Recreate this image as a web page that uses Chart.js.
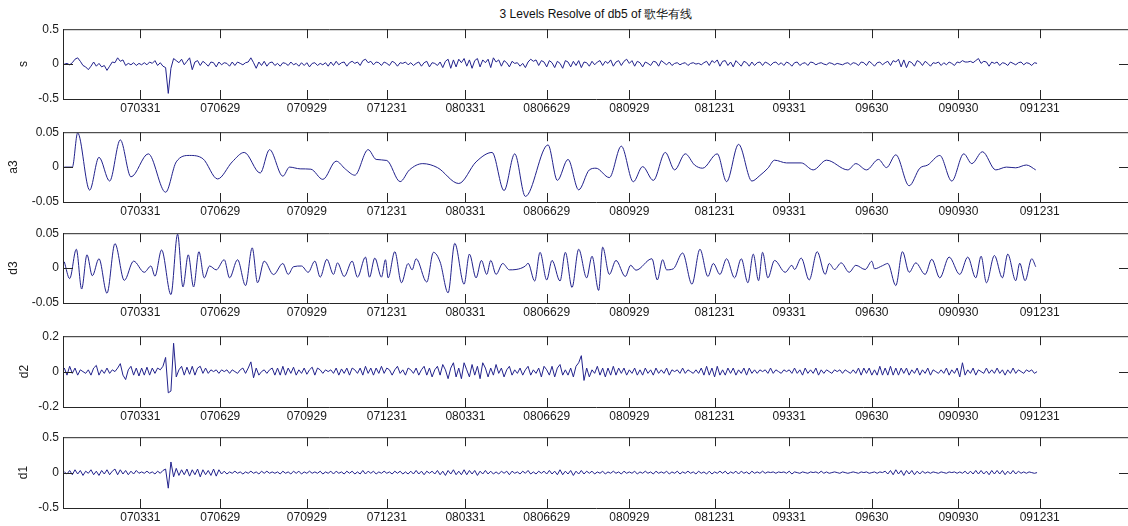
<!DOCTYPE html>
<html>
<head>
<meta charset="utf-8">
<script src="https://cdn.jsdelivr.net/npm/chart.js@4/dist/chart.umd.min.js"></script>
<style>
  html, body { margin: 0; padding: 0; background: #fff; overflow: hidden; width: 1128px; height: 526px; }
  #title { position: absolute; left: 63px; width: 1066px; top: 6px; text-align: center;
           font: 12px "Liberation Sans", Arial, sans-serif; color: #111; }
  .panel { position: absolute; left: 0; width: 1140px; }
</style>
</head>
<body>
<div id="title">3 Levels Resolve of db5 of 歌华有线</div>
<script>
'use strict';

// ── 横轴：交易日序号与日期标签 ─────────────────────────────
const tickIdx    = [58, 118, 183, 243, 302, 363, 425, 489, 545, 607, 672, 733];
const tickLabels = ['070331', '070629', '070929', '071231', '080331', '0806629',
                    '080929', '081231', '09331', '09630', '090930', '091231'];

// ── 原始信号 s（每隔一个交易日取样，序号 1,3,5,...）───────────
const sVal = [
  0, 0.01, -0.01, 0.02, 0.07, 0.09, 0.04, -0.02, -0.04, -0.08,
  -0.03, 0.03, -0.03, 0.01, -0.04, -0.02, -0.09, -0.03, 0.03, 0.02,
  0.09, 0.04, 0.06, -0.02, 0.01, -0.01, 0.02, -0.02, 0.01, -0.01,
  0.02, -0.01, 0.03, 0.01, 0.05, -0.02, 0.02, -0.03, -0.05, -0.42,
  -0.06, 0.08, 0.05, 0.02, 0.07, -0.01, 0.04, 0.09, -0.08, 0.03,
  0.05, -0.02, 0.04, 0.01, -0.03, 0.03, 0.02, -0.04, 0.03, -0.01,
  0.02, 0.01, -0.03, 0.03, -0.02, 0.03, 0.01, -0.01, 0.02, 0.03,
  0.09, 0.02, -0.06, 0.03, -0.02, 0.04, -0.03, 0.02, 0.03, -0.02,
  0.01, -0.03, 0.02, 0.01, -0.02, 0.03, -0.01, 0.01, -0.03, 0.02,
  -0.02, 0.02, -0.04, 0.01, 0.02, -0.02, 0.01, -0.01, 0.02, -0.03,
  0.03, -0.02, 0.04, -0.01, 0.02, 0.03, -0.03, 0.02, 0.04, 0.01,
  0.03, -0.02, 0.05, 0.07, 0.02, 0.04, -0.01, 0.03, 0.02, -0.02,
  0.03, 0.01, -0.02, 0.04, 0.02, -0.03, 0.02, 0.01, 0.03, -0.01,
  0.02, -0.02, 0.01, 0.03, -0.03, 0.02, 0.04, -0.04, 0.02, 0.01,
  -0.02, 0.03, -0.05, 0.04, 0.07, -0.06, 0.06, -0.04, 0.07, 0.02,
  0.08, -0.03, 0.06, -0.06, 0.05, 0.08, -0.04, 0.06, 0.02, 0.07,
  -0.05, 0.09, 0.03, 0.06, -0.03, 0.05, 0.02, -0.04, 0.04, 0.01,
  0.02, -0.03, 0.01, -0.05, 0.03, 0.07, 0.04, 0.06, -0.02, 0.05,
  0.03, -0.04, 0.05, 0.02, -0.05, 0.04, 0.01, -0.06, 0.05, 0.03,
  -0.04, 0.04, -0.02, 0.05, -0.05, 0.03, 0.02, -0.03, 0.04, -0.01,
  0.03, 0.05, -0.02, 0.04, 0.01, 0.06, -0.03, 0.03, 0.05, -0.02,
  0.04, 0.07, 0.01, 0.05, -0.03, 0.04, 0.02, -0.04, 0.03, 0.01,
  -0.02, 0.04, 0.03, -0.03, 0.05, 0.02, -0.01, 0.03, -0.02, 0.01,
  0.02, -0.01, 0.01, 0.02, -0.02, 0.01, 0.02, 0, 0.01, -0.01,
  0.02, 0.04, -0.02, 0.05, 0.02, 0.06, -0.03, 0.04, 0.05, -0.02,
  0.03, -0.04, 0.05, 0.01, -0.03, 0.04, 0.02, -0.03, 0.03, -0.02,
  0.02, 0.03, -0.02, 0.03, 0.01, -0.02, 0.02, 0.03, -0.01, 0.02,
  -0.02, 0.03, 0.01, -0.03, 0.02, 0.03, -0.02, 0.01, 0.02, -0.02,
  0.03, 0.02, -0.01, 0.01, 0.02, 0, -0.01, 0.02, 0.01, -0.01,
  0.01, 0, -0.01, 0.01, 0.02, -0.01, 0.02, 0.01, -0.02, 0.03,
  0.02, -0.02, 0.04, 0.01, -0.03, 0.02, 0.03, -0.01, 0.02, 0.04,
  -0.02, 0.05, 0.03, 0.07, -0.04, 0.06, -0.05, 0.04, 0.02, -0.03,
  0.05, 0.03, -0.02, 0.04, 0.01, -0.03, 0.02, 0.01, 0.03, -0.02,
  0.02, -0.01, 0.03, 0.01, -0.02, 0.03, 0.02, 0.05, 0.03, 0.03,
  0.04, 0.02, 0.05, 0.08, 0.01, 0.04, 0.03, -0.03, 0.03, 0.01,
  0.03, -0.02, 0.02, 0.01, -0.02, 0.03, 0.01, -0.01, 0.02, 0.03,
  -0.01, 0.02, 0.01, -0.02, 0.02, 0.01
];

// ── 第3层近似 a3（平滑，按极值点记录）────────────────────────
const a3Idx = [1, 7, 11, 20, 27, 35, 43, 51, 64, 77, 85, 95, 105, 116, 127, 136, 148, 155, 165, 170,
  178, 186, 195, 205, 212, 219, 229, 235, 243, 253, 260, 270, 281, 297, 310, 322, 331, 339, 347, 364,
  371, 379, 387, 395, 400, 410, 419, 428, 435, 443, 452, 459, 467, 474, 480, 491, 498, 507, 517, 523,
  529, 534, 543, 554, 563, 573, 589, 595, 603, 612, 618, 625, 635, 643, 649, 658, 667, 676, 682, 690,
  700, 708, 715, 723, 730];
const a3Val = [0, 0, 0.049, -0.033, 0.014, -0.020, 0.039, -0.014, 0.019, -0.036,
  0.0075, 0.0167, 0.012, -0.017, 0.0075, 0.021, -0.0085, 0.025, -0.013, 0,
  -0.0025, -0.003, -0.0176, 0.0085, -0.003, -0.0116, 0.025, 0.011, 0.0095, -0.0208,
  -0.004, 0.005, -0.0007, -0.0235, 0.0075, 0.021, -0.0336, 0.019, -0.042, 0.0318,
  -0.019, 0.011, -0.0326, -0.004, -0.0016, -0.015, 0.030, -0.021, 0.0007, -0.019,
  0.021, -0.004, 0.019, 0.003, -0.0016, 0.019, -0.0208, 0.0326, -0.020, -0.012,
  -0.0016, 0.0099, 0.006, 0.006, -0.004, 0.0099, -0.004, 0.005, -0.004, 0.011,
  -0.0007, 0.0176, -0.0267, -0.0016, 0.003, 0.0167, -0.020, 0.019, 0.005, 0.022,
  -0.004, 0, -0.001, 0.003, -0.004];

// ── 第3层细节 d3 ────────────────────────────────────────────
const d3Idx = [1, 5, 10, 14, 18, 22, 27, 33, 39, 46, 53, 61, 66, 69, 74, 81, 86, 90, 94, 98,
  102, 106, 110, 115, 121, 125, 131, 137, 142, 146, 151, 158, 165, 169, 173, 179, 184, 189, 193, 198,
  203, 206, 211, 217, 221, 227, 230, 234, 239, 242, 244, 249, 254, 259, 262, 265, 273, 278, 283, 289,
  294, 301, 305, 310, 314, 318, 321, 325, 330, 335, 340, 347, 349, 354, 358, 363, 367, 373, 377, 382,
  387, 393, 397, 402, 405, 410, 415, 422, 426, 430, 442, 446, 450, 453, 458, 465, 472, 478, 484, 488,
  493, 498, 504, 509, 514, 518, 522, 525, 529, 534, 542, 547, 549, 554, 560, 566, 572, 575, 579, 584,
  590, 595, 602, 607, 609, 615, 619, 625, 630, 635, 640, 647, 652, 658, 665, 673, 679, 685, 689, 693,
  699, 705, 709, 715, 718, 722, 727, 730];
const d3Val = [0.009, -0.015, 0.027, -0.030, 0.019, -0.011, 0.0134, -0.036, 0.035, -0.0176,
  0.010, -0.006, 0.003, -0.0116, 0.026, -0.038, 0.0486, -0.027, 0.019, -0.027,
  0.0235, -0.014, 0.003, -0.0025, 0.012, -0.014, 0.012, -0.025, 0.029, -0.021,
  0.010, -0.0093, 0.0066, -0.009, 0.002, 0.003, -0.006, 0.010, -0.013, 0.0126,
  -0.009, 0.0075, -0.012, 0.010, -0.013, 0.0158, -0.013, 0.0144, -0.013, 0.012,
  -0.014, 0.0235, -0.021, 0.0066, -0.0025, 0.0134, -0.020, 0.0226, 0.0088, -0.0354,
  0.0354, -0.023, 0.020, -0.014, 0.011, -0.009, 0.011, -0.009, 0.0066, -0.0025,
  -0.002, 0.003, 0.007, -0.0185, 0.0226, -0.017, 0.011, -0.0185, 0.0226, -0.0277,
  0.027, -0.014, 0.017, -0.032, 0.030, -0.009, 0.011, -0.012, 0.004, -0.003,
  0.0134, -0.017, 0.012, -0.0025, -0.001, 0.0216, -0.023, 0.027, -0.012, 0.0066,
  -0.009, 0.0134, -0.014, 0.0134, -0.021, 0.020, -0.018, 0.0226, -0.014, 0.011,
  -0.006, 0.004, -0.002, 0.0144, -0.017, 0.0235, -0.009, 0.0066, -0.002, 0.0075,
  -0.006, 0.004, -0.002, 0.0098, -0.001, 0.0035, 0.0066, -0.025, 0.0235, -0.006,
  0.0075, -0.009, 0.0126, -0.014, 0.0158, -0.009, 0.0158, -0.014, 0.017, -0.021,
  0.018, -0.014, 0.020, -0.018, 0.007, -0.018, 0.0134, 0.002];

// ── 第2层细节 d2（序号 1,3,5,...）───────────────────────────
const d2Val = [
  0.02, -0.02, 0.03, -0.01, 0.02, -0.02, 0.01, 0, -0.01, 0.01,
  -0.02, 0.02, 0.035, -0.02, 0.01, -0.01, 0.02, -0.01, 0.01, 0,
  0.02, 0.045, -0.02, -0.045, 0.01, 0.03, -0.02, 0.02, -0.025, 0.02,
  -0.02, 0.025, -0.02, 0.02, -0.01, 0.02, 0.01, 0.03, 0.08, -0.12,
  -0.11, 0.16, -0.03, 0.01, 0.03, -0.02, 0.025, -0.015, 0.03, -0.02,
  0.02, 0.03, -0.01, 0.02, -0.01, 0.01, 0, 0.01, -0.01, 0.01,
  0, 0.01, -0.01, 0.01, 0, -0.01, 0.01, 0.02, -0.01, 0.02,
  0.055, -0.035, 0.02, -0.02, 0, 0.01, -0.01, 0.01, 0.02, -0.02,
  0.02, -0.02, 0.03, -0.02, 0.02, -0.01, 0.025, -0.02, 0.01, -0.01,
  0.02, -0.015, 0.01, 0.025, -0.02, 0.02, 0.01, -0.01, 0.01, 0,
  0.01, -0.01, 0.02, -0.02, 0.015, -0.01, 0.02, -0.02, 0.02, 0.01,
  -0.01, 0.02, -0.02, 0.03, -0.01, 0.02, -0.02, 0.02, -0.01, 0.03,
  -0.01, 0.02, 0.01, -0.02, 0.01, 0.03, -0.01, 0.01, -0.02, 0.02,
  0.01, -0.01, 0.02, -0.02, 0.01, 0.03, -0.02, 0.02, -0.03, 0.01,
  0.03, -0.02, 0.04, 0.01, -0.04, 0.02, 0.05, -0.03, 0.02, -0.04,
  0.05, 0.01, -0.03, 0.04, -0.02, 0.03, -0.04, 0.05, 0.02, -0.03,
  0.02, -0.02, 0.04, -0.01, 0.02, -0.03, 0.01, 0.03, -0.02, 0.01,
  -0.01, 0.02, -0.02, 0.01, 0.03, -0.02, 0.01, -0.01, 0.02, -0.03,
  0.03, 0.01, -0.02, 0.03, -0.03, 0.02, 0.04, -0.02, 0.01, -0.02,
  0.02, -0.03, 0.03, 0.05, 0.09, -0.05, 0.02, -0.03, 0.01, -0.01,
  0.03, -0.02, 0.02, -0.03, 0.02, -0.02, 0.03, -0.02, 0.02, -0.01,
  0.02, -0.02, 0.01, -0.01, 0.02, -0.02, 0.01, -0.02, 0.02, -0.01,
  0.01, -0.02, 0.02, -0.01, 0.01, -0.01, 0.02, -0.02, 0.01, 0,
  0.01, -0.01, 0.02, -0.01, 0.01, 0, -0.01, 0.01, -0.01, 0.02,
  -0.02, 0.03, -0.02, 0.02, -0.03, 0.03, -0.02, 0.01, -0.02, 0.02,
  -0.01, 0.02, -0.02, 0.01, -0.01, 0.02, -0.02, 0.02, -0.01, 0.01,
  -0.01, 0.01, 0, 0.01, -0.01, 0.02, -0.01, 0.01, 0, -0.01,
  0.01, 0, 0.01, -0.01, 0.02, -0.01, 0.01, -0.02, 0.02, -0.01,
  0.01, -0.01, 0.02, -0.02, 0.01, -0.01, 0.01, 0, -0.01, 0.01,
  0, 0.01, -0.01, 0.01, 0, -0.01, 0.01, -0.01, 0.02, -0.02,
  0.02, -0.01, 0.02, -0.02, 0.01, -0.02, 0.03, -0.02, 0.02, -0.02,
  0.03, -0.02, 0.02, -0.02, 0.02, -0.01, 0.02, -0.02, 0.01, -0.01,
  0.02, -0.02, 0.01, -0.01, 0.02, -0.02, 0.01, 0, -0.01, 0.01,
  -0.01, 0.02, -0.02, 0.01, -0.01, 0.02, -0.03, 0.05, -0.02, 0.01,
  -0.01, 0.02, -0.02, 0.01, 0, -0.01, 0.02, -0.01, 0.01, -0.01,
  0.02, -0.01, 0.01, -0.02, 0.01, -0.01, 0.02, -0.01, 0.01, 0,
  -0.01, 0.01, 0, 0.01, -0.01, 0
];

// ── 第1层细节 d1（序号 1,3,5,...）───────────────────────────
const d1Val = [
  0.01, -0.02, 0.03, -0.03, 0.04, -0.02, 0.03, -0.04, 0.02, -0.01,
  0.04, -0.03, 0.02, -0.04, 0.03, -0.02, 0.04, -0.03, 0.02, 0.05,
  -0.03, 0.04, -0.02, 0.03, -0.03, 0.02, -0.02, 0.03, -0.01, 0.01,
  -0.01, 0.02, -0.01, 0.01, -0.02, 0.02, -0.01, 0.03, 0.05, -0.22,
  0.15, -0.06, 0.06, -0.04, 0.04, -0.03, 0.05, -0.05, 0.04, -0.03,
  0.05, -0.06, 0.04, -0.03, 0.03, -0.04, 0.05, -0.05, 0.04, -0.02,
  0.02, -0.02, 0.01, -0.01, 0.02, -0.01, 0.01, -0.02, 0.01, -0.01,
  0.02, -0.01, 0.01, -0.02, 0.02, -0.01, 0.02, -0.01, 0.01, -0.01,
  0.01, -0.02, 0.02, -0.01, 0.01, -0.02, 0.02, -0.01, 0.02, -0.02,
  0.01, -0.01, 0.02, -0.01, 0.01, -0.01, 0.02, -0.02, 0.01, -0.01,
  0.02, -0.02, 0.02, -0.01, 0.01, -0.02, 0.02, -0.01, 0.02, -0.02,
  0.01, -0.02, 0.03, -0.02, 0.02, -0.01, 0.02, -0.02, 0.01, -0.01,
  0.02, -0.01, 0.01, -0.02, 0.02, -0.01, 0.02, -0.02, 0.01, -0.02,
  0.02, -0.02, 0.03, -0.02, 0.02, -0.03, 0.02, -0.01, 0.02, -0.02,
  0.03, -0.03, 0.02, -0.04, 0.03, -0.02, 0.04, -0.03, 0.02, -0.03,
  0.04, -0.03, 0.03, -0.02, 0.03, -0.04, 0.02, -0.02, 0.03, -0.02,
  0.02, -0.02, 0.01, -0.02, 0.02, -0.01, 0.02, -0.03, 0.02, -0.01,
  0.01, -0.02, 0.02, -0.01, 0.03, -0.02, 0.01, -0.02, 0.02, -0.01,
  0.02, -0.02, 0.03, -0.02, 0.02, -0.03, 0.04, -0.03, 0.02, -0.02,
  0.03, -0.04, 0.02, -0.02, 0.03, -0.02, 0.02, -0.01, 0.02, -0.02,
  0.01, -0.01, 0.02, -0.02, 0.01, -0.01, 0.02, -0.01, 0.01, -0.02,
  0.02, -0.01, 0.01, -0.01, 0.02, -0.02, 0.01, -0.01, 0.02, -0.01,
  0.01, -0.02, 0.02, -0.01, 0.01, -0.01, 0.02, -0.02, 0.01, -0.01,
  0.02, -0.02, 0.01, -0.01, 0.02, -0.01, 0.01, -0.02, 0.02, -0.01,
  0.01, -0.02, 0.02, -0.02, 0.01, -0.01, 0.02, -0.01, 0.02, -0.02,
  0.01, -0.01, 0.02, -0.02, 0.02, -0.01, 0.01, -0.02, 0.02, -0.01,
  0.01, -0.01, 0.02, -0.01, 0.01, 0, 0.01, -0.01, 0.01, 0,
  0.01, -0.01, 0.02, -0.02, 0.01, 0, -0.01, 0.01, 0, -0.01,
  0.01, 0, 0.01, -0.01, 0.02, -0.01, 0.01, -0.01, 0, 0.01,
  0, -0.01, 0.01, 0, -0.01, 0, 0.01, 0, -0.01, 0.01,
  0, 0.01, -0.01, 0, 0.01, -0.01, 0.01, 0, 0.02, -0.02,
  0.03, -0.03, 0.04, -0.02, 0.03, -0.04, 0.03, -0.02, 0.03, -0.03,
  0.02, -0.02, 0.02, -0.01, 0.01, -0.01, 0.01, 0, -0.01, 0.01,
  0, -0.01, 0.01, 0, 0.01, -0.01, 0.01, -0.01, 0.02, -0.02,
  0.02, -0.02, 0.03, -0.02, 0.03, -0.02, 0.02, -0.03, 0.03, -0.02,
  0.03, -0.02, 0.03, -0.03, 0.02, -0.02, 0.03, -0.02, 0.02, -0.01,
  0.01, -0.01, 0.01, 0, -0.01, 0
];

// ── 样式 ────────────────────────────────────────────────────
const LINE = '#22228c';
const AXIS = '#262626';
const TXT  = '#1a1a1a';
const FONT = { family: '"Liberation Sans", Arial, sans-serif', size: 12 };

const everyOther = vals => vals.map((v, i) => ({ x: 1 + 2 * i, y: v }));
const pairs = (xs, ys) => xs.map((x, i) => ({ x, y: ys[i] }));

// 子图：名称、数据、纵轴范围、位置
const panels = [
  { name: 's',  points: everyOther(sVal),  lim: 0.5,  smooth: false, top: 26,  bottom: 99,  titlePad: 16 },
  { name: 'a3', points: pairs(a3Idx, a3Val), lim: 0.05, smooth: true,  top: 129, bottom: 202, titlePad: 6 },
  { name: 'd3', points: pairs(d3Idx, d3Val), lim: 0.05, smooth: true,  top: 230, bottom: 303, titlePad: 6 },
  { name: 'd2', points: everyOther(d2Val), lim: 0.2,  smooth: false, top: 333, bottom: 407, titlePad: 17 },
  { name: 'd1', points: everyOther(d1Val), lim: 0.5,  smooth: false, top: 434, bottom: 508, titlePad: 16 },
];

// 坐标框与朝内的刻度线
const frame = {
  id: 'frame',
  afterDraw(chart) {
    const { ctx, chartArea: a, scales: { x, y } } = chart;
    ctx.save();
    ctx.strokeStyle = AXIS;
    ctx.lineWidth = 1;
    ctx.beginPath();
    ctx.moveTo(a.left, a.top + 0.5);
    ctx.lineTo(a.right, a.top + 0.5);
    ctx.moveTo(a.right - 0.5, a.top);
    ctx.lineTo(a.right - 0.5, a.bottom);
    tickIdx.forEach(v => {
      const px = Math.round(x.getPixelForValue(v)) + 0.5;
      ctx.moveTo(px, a.bottom);
      ctx.lineTo(px, a.bottom - 9);
      ctx.moveTo(px, a.top);
      ctx.lineTo(px, a.top + 9);
    });
    const py = Math.round(y.getPixelForValue(0)) + 0.5;
    ctx.moveTo(a.left, py);
    ctx.lineTo(a.left + 10, py);
    ctx.moveTo(a.right, py);
    ctx.lineTo(a.right - 10, py);
    ctx.stroke();
    ctx.restore();
  }
};

function makePanel(p) {
  const box = document.createElement('div');
  box.className = 'panel';
  box.style.top = (p.top - 8) + 'px';
  box.style.height = (p.bottom - p.top + 30) + 'px';
  const cv = document.createElement('canvas');
  box.appendChild(cv);
  document.body.appendChild(box);

  new Chart(cv, {
    type: 'line',
    data: {
      datasets: [{
        data: p.points,
        borderColor: LINE,
        borderWidth: 1,
        pointRadius: 0,
        fill: false,
        tension: 0,
        cubicInterpolationMode: p.smooth ? 'monotone' : 'default',
      }],
    },
    options: {
      animation: false,
      responsive: true,
      maintainAspectRatio: false,
      layout: { padding: { top: 8, right: 11, left: 0, bottom: 0 } },
      plugins: { legend: { display: false }, tooltip: { enabled: false } },
      scales: {
        x: {
          type: 'linear', min: 0, max: 800,
          afterBuildTicks: s => { s.ticks = tickIdx.map(v => ({ value: v })); },
          afterFit: s => { s.height = 22; },
          grid: { display: false, drawTicks: false },
          border: { color: AXIS },
          ticks: {
            autoSkip: false, maxRotation: 0, padding: 2, color: TXT, font: FONT,
            callback: (v, i) => tickLabels[i],
          },
        },
        y: {
          min: -p.lim, max: p.lim,
          afterBuildTicks: s => { s.ticks = [-p.lim, 0, p.lim].map(v => ({ value: v })); },
          afterFit: s => { s.width = 63; },
          grid: { display: false, drawTicks: false },
          border: { color: AXIS },
          ticks: { autoSkip: false, padding: 4, color: TXT, font: FONT, callback: v => String(v) },
          title: { display: true, text: p.name, color: TXT, font: FONT, padding: { top: p.titlePad } },
        },
      },
    },
    plugins: [frame],
  });
}

panels.forEach(makePanel);
</script>
</body>
</html>
